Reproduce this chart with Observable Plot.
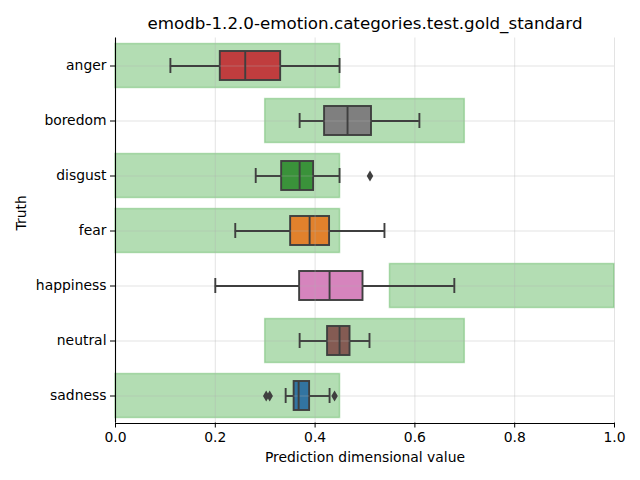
<!DOCTYPE html>
<html>
<head>
<meta charset="utf-8">
<script src="https://cdn.jsdelivr.net/npm/d3@7"></script>
<script src="https://cdn.jsdelivr.net/npm/@observablehq/plot@0.6"></script>
<style>
  html, body { margin: 0; padding: 0; background: white; }
</style>
</head>
<body>
<div id="chart"></div>
<script>
const title = "emodb-1.2.0-emotion.categories.test.gold_standard";
const xLabel = "Prediction dimensional value";
const yLabel = "Truth";
const categories = ["anger", "boredom", "disgust", "fear", "happiness", "neutral", "sadness"];
const rangeLow  = [0.0, 0.3, 0.0, 0.0, 0.55, 0.3, 0.0];
const rangeHigh = [0.45, 0.7, 0.45, 0.45, 1.0, 0.7, 0.45];
const whiskerLow  = [0.11, 0.369, 0.281, 0.24, 0.20, 0.369, 0.341];
const q1          = [0.21, 0.419, 0.333, 0.351, 0.369, 0.425, 0.358];
const median      = [0.26, 0.465, 0.369, 0.389, 0.429, 0.449, 0.367];
const q3          = [0.331, 0.513, 0.397, 0.429, 0.496, 0.47, 0.389];
const whiskerHigh = [0.449, 0.609, 0.449, 0.539, 0.679, 0.509, 0.429];
const boxColors = ["#c03d3e", "#7f7f7f", "#3a923a", "#e1812c", "#d684bd", "#845b53", "#3274a1"];
const outlierCategories = ["disgust", "sadness", "sadness", "sadness"];
const outlierValues = [0.51, 0.302, 0.309, 0.439];
const xTicks = [0, 0.2, 0.4, 0.6, 0.8, 1.0];

const rows = categories.map((c, i) => ({
  cat: c, lo: rangeLow[i], hi: rangeHigh[i],
  wl: whiskerLow[i], q1: q1[i], med: median[i], q3: q3[i], wh: whiskerHigh[i],
  color: boxColors[i]
}));
const outliers = outlierCategories.map((c, i) => ({cat: c, v: outlierValues[i]}));

const lineColor = "#3f3f3f";
const lw = 1.9;

const chart = Plot.plot({
  width: 640,
  height: 480,
  marginLeft: 115,
  marginRight: 26,
  marginTop: 37.5,
  marginBottom: 57.5,
  style: {fontFamily: "DejaVu Sans", fontSize: "13.9px", background: "white", color: "black"},
  x: {domain: [0, 1]},
  y: {type: "band", domain: categories, padding: 0},
  marks: [
    Plot.barX(rows, {x1: "lo", x2: "hi", y: "cat", insetTop: 5.5, insetBottom: 5.5,
      fill: "#2ca02c", fillOpacity: 0.36, stroke: "#2ca02c", strokeOpacity: 0.3, strokeWidth: 1.5}),
    Plot.barX(rows, {x1: "q1", x2: "q3", y: "cat", insetTop: 13, insetBottom: 13,
      fill: "color", stroke: lineColor, strokeWidth: lw}),
    Plot.gridX({ticks: xTicks, stroke: "#b0b0b0", strokeOpacity: 0.45, strokeWidth: 0.8}),
    Plot.gridY({stroke: "#b0b0b0", strokeOpacity: 0.45, strokeWidth: 0.8}),
    Plot.ruleY(rows, {x1: "wl", x2: "q1", y: "cat", stroke: lineColor, strokeWidth: lw}),
    Plot.ruleY(rows, {x1: "q3", x2: "wh", y: "cat", stroke: lineColor, strokeWidth: lw}),
    Plot.tickX(rows, {x: "wl", y: "cat", inset: 20, stroke: lineColor, strokeWidth: lw}),
    Plot.tickX(rows, {x: "wh", y: "cat", inset: 20, stroke: lineColor, strokeWidth: lw}),
    Plot.tickX(rows, {x: "med", y: "cat", inset: 13, stroke: lineColor, strokeWidth: lw}),
    Plot.dot(outliers, {x: "v", y: "cat", symbol: "diamond", r: 3.4, fill: lineColor, stroke: null}),
    Plot.axisX({ticks: xTicks, tickFormat: d3.format(".1f"), tickSize: 5, tickPadding: 4, label: null, stroke: "black"}),
    Plot.axisY({tickSize: 5, tickPadding: 4, label: null, stroke: "black"}),
    Plot.ruleX([0], {stroke: "black", strokeWidth: 1.1}),
    Plot.ruleY([categories[categories.length - 1]], {dy: 27.5, stroke: "black", strokeWidth: 1.1}),
    Plot.text([title], {frameAnchor: "top", dy: -14, fontSize: 16.7, lineAnchor: "middle", fill: "black"}),
    Plot.text([xLabel], {frameAnchor: "bottom", dy: 35, fontSize: 13.9, lineAnchor: "middle", fill: "black"}),
    Plot.text([yLabel], {frameAnchor: "left", dx: -94, rotate: -90, fontSize: 13.9, lineAnchor: "middle", fill: "black"})
  ]
});
document.getElementById("chart").appendChild(chart);
</script>
</body>
</html>
